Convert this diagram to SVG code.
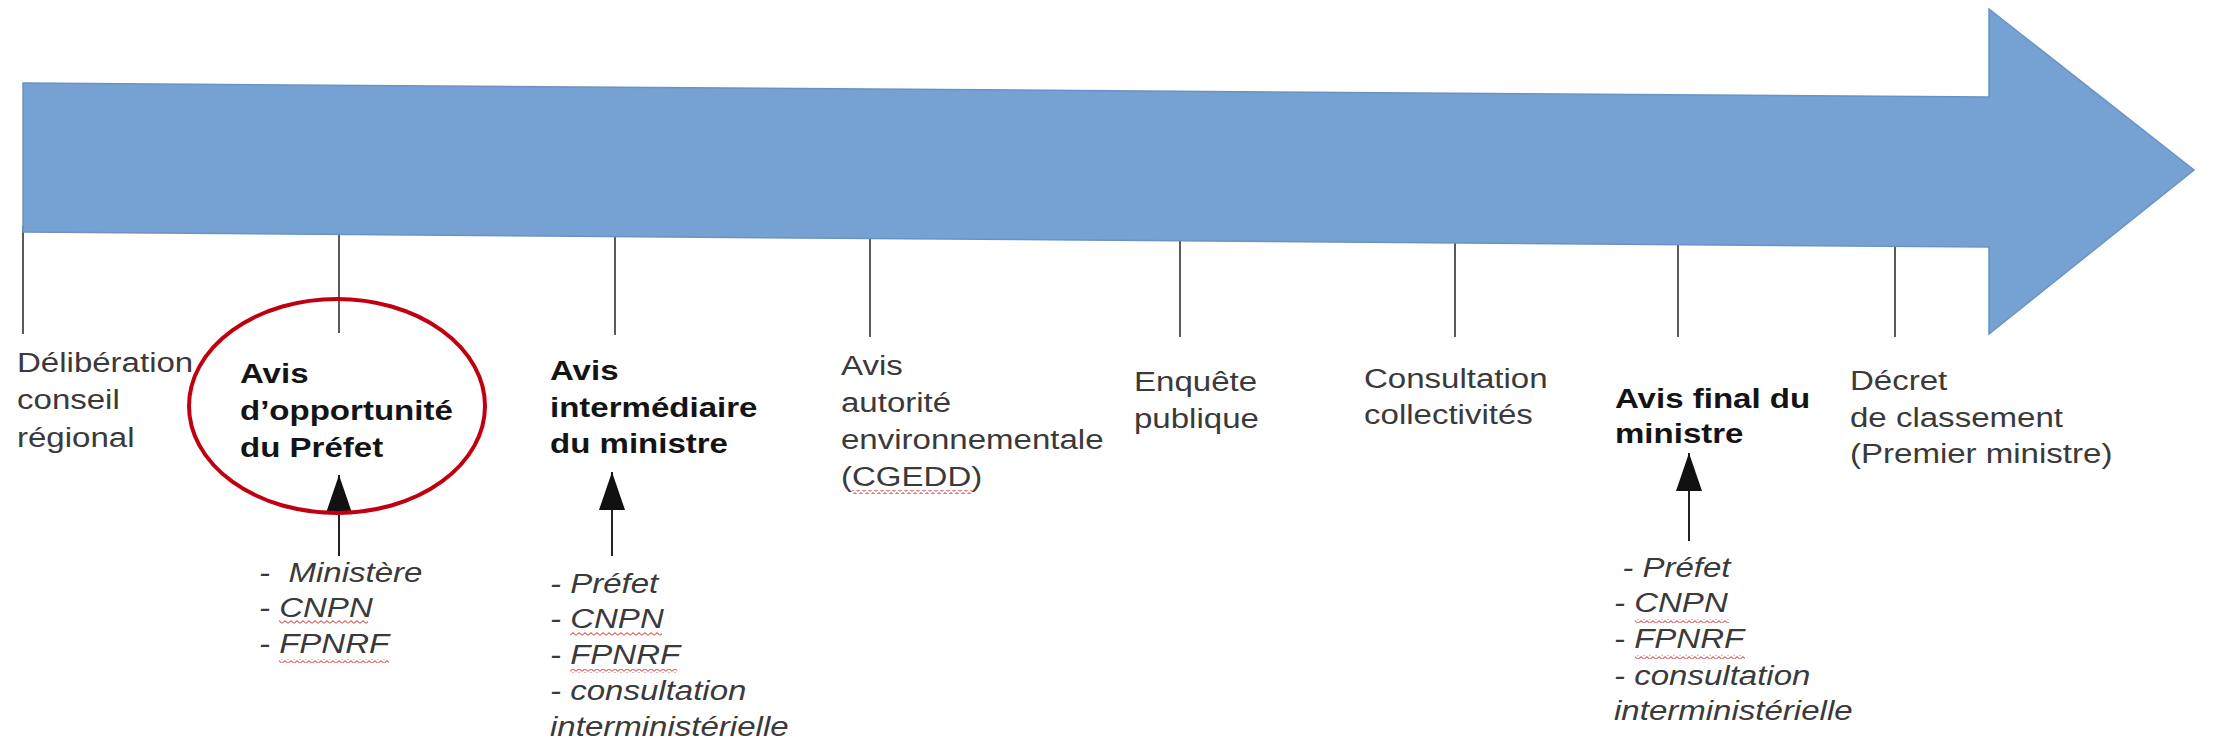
<svg xmlns="http://www.w3.org/2000/svg" width="2213" height="746" viewBox="0 0 2213 746">
<style>
.t{font-family:"Liberation Sans",Arial,sans-serif;font-size:28px;fill:#3a3a3a}
.b{font-family:"Liberation Sans",Arial,sans-serif;font-size:28px;font-weight:bold;fill:#141414}
.i{font-family:"Liberation Sans",Arial,sans-serif;font-size:28px;font-style:italic;fill:#3a3a3a}
.tick{stroke:#5a5a5a;stroke-width:2;fill:none}
.up{stroke:#222;stroke-width:2;fill:none;marker-end:url(#ah)}
.sq{fill:url(#wave)}
</style>
<defs>
<marker id="ah" markerUnits="userSpaceOnUse" markerWidth="38" markerHeight="26" refX="38" refY="13" orient="auto">
<path d="M0,0 L38,13 L0,26 z" fill="#111"/>
</marker>
<pattern id="wave" patternUnits="userSpaceOnUse" width="6" height="4">
<path d="M0,3.2 L3,0.8 L6,3.2" stroke="#e07070" stroke-width="1.1" fill="none"/>
</pattern>
</defs>
<rect width="2213" height="746" fill="#ffffff"/>
<g id="connectors">
<line class="tick" x1="23" y1="226" x2="23" y2="334"/>
<line class="tick" x1="339" y1="226" x2="339" y2="333"/>
<line class="tick" x1="615" y1="226" x2="615" y2="335"/>
<line class="tick" x1="870" y1="226" x2="870" y2="337"/>
<line class="tick" x1="1180" y1="226" x2="1180" y2="337"/>
<line class="tick" x1="1455" y1="226" x2="1455" y2="337"/>
<line class="tick" x1="1678" y1="226" x2="1678" y2="337"/>
<line class="tick" x1="1895" y1="226" x2="1895" y2="337"/>
<line class="up" x1="339" y1="556" x2="339" y2="475"/>
<line class="up" x1="612" y1="556" x2="612" y2="472"/>
<line class="up" x1="1689" y1="541" x2="1689" y2="453"/>
</g>
<g id="timeline">
<polygon points="23,83 1989,97 1989,9 2194,170 1989,334 1989,247 23,232" fill="#75a2d2" stroke="#6a93c3" stroke-width="1.5"/>
</g>
<g id="highlight">
<ellipse cx="337" cy="406" rx="148" ry="107" fill="none" stroke="#c00010" stroke-width="4"/>
</g>
<g id="n1">
<text class="t" transform="translate(17,372) scale(1.18,1)"><tspan x="0" y="0">Délibération</tspan><tspan x="0" y="37.5">conseil</tspan><tspan x="0" y="75">régional</tspan></text>
</g>
<g id="n2">
<text class="b" transform="translate(240,383) scale(1.18,1)"><tspan x="0" y="0">Avis</tspan><tspan x="0" y="37">d’opportunité</tspan><tspan x="0" y="74">du Préfet</tspan></text>
</g>
<g id="s2">
<text class="i" transform="translate(259,582) scale(1.18,1)"><tspan x="0" y="0">-</tspan><tspan x="25" y="0">Ministère</tspan><tspan x="0" y="35.5">- CNPN</tspan><tspan x="0" y="71">- FPNRF</tspan></text>
<rect class="sq" x="279" y="620" width="89" height="4"/>
<rect class="sq" x="279" y="659" width="110" height="4"/>
</g>
<g id="n3">
<text class="b" transform="translate(550,380) scale(1.18,1)"><tspan x="0" y="0">Avis</tspan><tspan x="0" y="37">intermédiaire</tspan><tspan x="0" y="73">du ministre</tspan></text>
</g>
<g id="s3">
<text class="i" transform="translate(550,593) scale(1.18,1)"><tspan x="0" y="0">- Préfet</tspan><tspan x="0" y="35.5">- CNPN</tspan><tspan x="0" y="71">- FPNRF</tspan><tspan x="0" y="107">- consultation</tspan><tspan x="0" y="143">interministérielle</tspan></text>
<rect class="sq" x="570" y="632" width="92" height="4"/>
<rect class="sq" x="570" y="669" width="107" height="4"/>
</g>
<g id="n4">
<text class="t" transform="translate(841,375) scale(1.18,1)"><tspan x="0" y="0">Avis</tspan><tspan x="0" y="37">autorité</tspan><tspan x="0" y="74">environnementale</tspan><tspan x="0" y="111">(CGEDD)</tspan></text>
<rect class="sq" x="852" y="490" width="120" height="4"/>
</g>
<g id="n5">
<text class="t" transform="translate(1134,391) scale(1.18,1)"><tspan x="0" y="0">Enquête</tspan><tspan x="0" y="37">publique</tspan></text>
</g>
<g id="n6">
<text class="t" transform="translate(1364,388) scale(1.18,1)"><tspan x="0" y="0">Consultation</tspan><tspan x="0" y="36">collectivités</tspan></text>
</g>
<g id="n7">
<text class="b" transform="translate(1615,408) scale(1.18,1)"><tspan x="0" y="0">Avis final du</tspan><tspan x="0" y="35">ministre</tspan></text>
</g>
<g id="s7">
<text class="i" transform="translate(1614,577) scale(1.18,1)"><tspan x="7" y="0">- Préfet</tspan><tspan x="0" y="35.5">- CNPN</tspan><tspan x="0" y="71">- FPNRF</tspan><tspan x="0" y="108">- consultation</tspan><tspan x="0" y="143">interministérielle</tspan></text>
<rect class="sq" x="1635" y="619" width="94" height="4"/>
<rect class="sq" x="1635" y="655" width="110" height="4"/>
</g>
<g id="n8">
<text class="t" transform="translate(1850,390) scale(1.18,1)"><tspan x="0" y="0">Décret</tspan><tspan x="0" y="37">de classement</tspan><tspan x="0" y="73">(Premier ministre)</tspan></text>
</g>
</svg>
